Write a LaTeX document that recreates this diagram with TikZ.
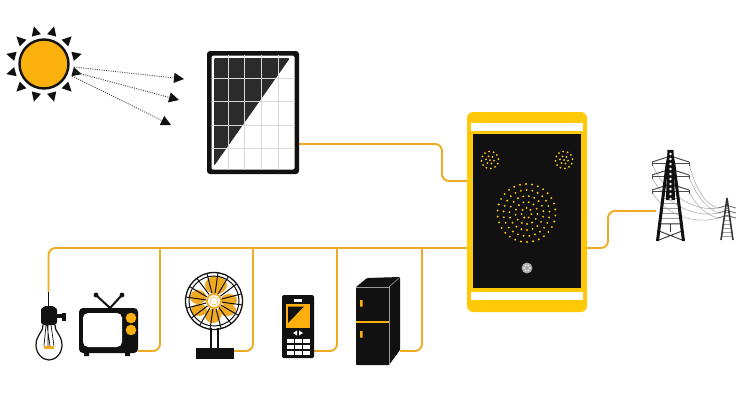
\documentclass[tikz,border=0pt]{standalone}
\usetikzlibrary{arrows.meta}
\definecolor{wireO}{HTML}{EFA922}
\definecolor{sunO}{HTML}{FBB00E}
\definecolor{gold}{HTML}{FFC90A}
\definecolor{inkK}{HTML}{111111}
\definecolor{panelK}{HTML}{2B2B2B}
\tikzset{
  wire/.style={draw=wireO,line width=1.9pt,rounded corners=7pt},
  ray/.style={dash pattern=on 1pt off 1.3pt,line width=.9pt,draw=inkK!80,-{Triangle[length=10pt,width=10pt,color=inkK]}},
  box/.style={inner sep=0pt,outer sep=0pt,rectangle},
  cable/.style={draw=gray!60,line width=.6pt},
  steel/.style={draw=inkK!75,line width=1pt},
  gdot/.style={fill=gold}
}
\begin{document}
\begin{tikzpicture}[x=1pt,y=-1pt]
\useasboundingbox (0,0) rectangle (750,400);
\fill[white] (0,0) rectangle (750,400);

% ---- anchors for the wires
\node[box,minimum width=92pt,minimum height=123pt] (panel) at (253,112.5) {};
\node[box,minimum width=120pt,minimum height=200pt] (ctrl) at (527,212) {};
\node[box,minimum width=59pt,minimum height=45pt] (tv) at (108.5,330.5) {};
\node[box,minimum width=38pt,minimum height=11pt] (fanbase) at (215,353.5) {};
\node[box,minimum width=32pt,minimum height=63pt] (phone) at (298,326.5) {};
\node[box,minimum width=44pt,minimum height=88pt] (fridge) at (378,321) {};
\node[box,minimum width=16pt,minimum height=14pt] (bulb) at (48.5,299) {};
\node[box,minimum width=30pt,minimum height=93pt] (tower) at (671,193.5) {};
\coordinate (j1) at (160,248);
\coordinate (j2) at (253,248);
\coordinate (j3) at (337,248);
\coordinate (j4) at (422,248);
\coordinate (bend1) at (442,144);
\coordinate (bend2) at (608,211);
\coordinate (corner) at (48.5,248);

\draw[wire] ([yshift=-31.5pt]panel.east) -- (bend1) |- ([yshift=31pt]ctrl.west);
\draw[wire] ([yshift=-36pt]ctrl.west) -- (corner) -- (bulb.north);
\draw[wire] (j1) |- ([yshift=-20.5pt]tv.east);
\draw[wire] (j2) |- ([yshift=2.5pt]fanbase.east);
\draw[wire] (j3) |- ([yshift=-24.5pt]phone.east);
\draw[wire] (j4) |- ([yshift=-30pt]fridge.east);
\draw[wire] ([yshift=-36pt]ctrl.east) -| (bend2) -- ([yshift=-17.5pt]tower.west);

% ---- sun
\foreach \a in {15,45,...,345}{
  \fill[inkK,shift={(44,64)}] (\a-9:30) -- (\a+9:30) -- (\a:39) -- cycle;
}
\node[circle,fill=sunO,draw=inkK,line width=2.4pt,minimum size=49pt,inner sep=0pt] (sun) at (44,64) {};
\coordinate (t1) at (184,79);
\coordinate (t2) at (179,100);
\coordinate (t3) at (171,125);
\draw[ray] (74,67) -- (t1);
\draw[ray] (74,72) -- (t2);
\draw[ray] (72,76) -- (t3);

% ---- solar panel
\fill[inkK,rounded corners=3pt] (207,51) rectangle (299,174);
\fill[white,rounded corners=1.5pt] (211.5,55.5) rectangle (294.5,169.5);
\fill[panelK,rounded corners=2pt] (214,58) -- (290,58) -- (214,166) -- cycle;
\begin{scope}
\clip (211.5,55.5) rectangle (294.5,169.5);
\foreach \x in {228,244,261,278} \draw[gray!30,line width=.9pt] (\x,55) -- (\x,170);
\foreach \y in {78,101,125,148} \draw[gray!30,line width=.9pt] (211,\y) -- (295,\y);
\end{scope}

% ---- controller
\fill[gold,rounded corners=6pt] (467,112) rectangle (587,312);
\fill[white] (471,123) rectangle (583,131);
\fill[white] (471,292) rectangle (583,300);
\fill[inkK] (473,134) rectangle (581,288);
\foreach \cx in {490,564}{
  \fill[gdot] (\cx,160) circle (1);
  \foreach \r/\n in {4/6,8.5/12}{
    \foreach \k in {1,...,\n}{
      \pgfmathsetmacro{\ang}{360*\k/\n+\r*17}
      \fill[gdot] ({\cx+\r*cos(\ang)},{160+\r*sin(\ang)}) circle (1);
    }
  }
}
\foreach \r/\n in {5/7,11/13,17/19,23/25,29/30}{
  \foreach \k in {1,...,\n}{
    \pgfmathsetmacro{\ang}{360*\k/\n+\r*13}
    \fill[gdot] ({526.5+\r*cos(\ang)},{213+\r*sin(\ang)}) circle (1.05);
  }
}
\fill[gray!70] (527,268) circle (5.5);
\foreach \a in {0,60,...,300}{
  \fill[white] ({527+2.8*cos(\a)},{268+2.8*sin(\a)}) circle (1);
}

% ---- small pylon and cables
\draw[cable] (689,164) .. controls (696,190) and (706,205) .. (718,208);
\draw[cable] (689,177) .. controls (696,195) and (706,208) .. (718,213);
\draw[cable] (689,192) .. controls (696,205) and (706,215) .. (718,218);
\draw[cable] (652,164) .. controls (665,195) and (695,212) .. (718,208);
\draw[cable] (652,177) .. controls (665,205) and (695,218) .. (718,213);
\draw[cable] (652,192) .. controls (665,215) and (695,225) .. (718,218);
\foreach \y/\w in {208/9,213/9,218/9}{
  \draw[gray!90!black,line width=.9pt] (727-\w,\y) -- (727,\y-2.5) -- (727+\w,\y);
}
\foreach \y in {204,208,...,236}{
  \draw[gray!75,line width=.6pt] ({727-(\y-197)*.15},\y) -- ({727+(\y-197)*.15},\y);
}
\draw[inkK!85,line width=1.6pt] (727,198) -- (721,240) (727,198) -- (733,240);

% ---- big pylon
\foreach \y/\w in {162/18.5,175/18.5,190/18.5}{
  \draw[steel] (670.5-\w,\y) -- (670.5,\y-6) -- (670.5+\w,\y);
  \draw[steel] (670.5-\w,\y+1) -- (670.5+\w,\y+1);
  \draw[steel] (670.5-\w,\y) -- ++(0,4) (670.5+\w,\y) -- ++(0,4);
}
\foreach \y in {198,203,...,223}{
  \draw[gray!80,line width=.9pt] ({670.5-(\y-147)*.135},\y) -- ({670.5+(\y-147)*.135},\y);
}
\draw[inkK!85,line width=.9pt] (660,224) -- (681,224) (659,240) -- (682,231) (682,240) -- (659,231) (670.5,224) -- (670.5,232);
\draw[inkK,line width=3pt] (670,150) -- (667,165) -- (657.5,241);
\draw[inkK,line width=3pt] (671,150) -- (674,165) -- (683.5,241);
\fill[inkK] (667.5,150) -- (673.5,150) -- (675,200) -- (666,200) -- cycle;
\foreach \y in {154,159,...,199}{
  \fill[white] (670.5,\y) circle (1.3);
}

% ---- bulb
\draw[inkK,line width=1.8pt] (bulb.north) -- (48.5,308);
\fill[inkK,rounded corners=3pt] (41,325) -- (41,313) .. controls (41,308) and (45,306) .. (49,306) .. controls (53,306) and (57,308) .. (57,313) -- (57,325) -- cycle;
\fill[inkK] (57,314) rectangle (63,318);
\fill[inkK] (62,313) rectangle (65.5,321);
\draw[inkK,line width=1.2pt] (43,325) .. controls (44,331) and (36,335) .. (36,345)
  .. controls (36,353) and (42,360) .. (49,360) .. controls (56,360) and (62,353) .. (62,345)
  .. controls (62,335) and (54,331) .. (55,325);
\draw[inkK,line width=.7pt] (46,325) -- (44,346) (48,325) -- (48,346) (51,325) -- (54,346) (47,325) -- (50,346);
\fill[wireO] (44,346) rectangle (54,349);
\foreach \ax/\ay/\bx/\by in {33,369,38,363, 41,374,44,366, 49,376,49,367, 58,374,55,366, 66,369,61,363}{
  \draw[wireO,line width=1.8pt] (\ax,\ay) -- (\bx,\by);
}

% ---- tv
\draw[inkK,line width=2pt] (110,308) -- (96,295) (110,308) -- (122,295);
\fill[inkK] (96,295) circle (2.4) (122,295) circle (2.4);
\fill[inkK,rounded corners=4pt] (79,308) rectangle (138,353);
\fill[inkK] (84,353) rectangle (89,356) (125,353) rectangle (130,356);
\fill[white,rounded corners=5pt] (83,313) rectangle (122,347);
\fill[sunO] (131,318) circle (5.3) (131,330) circle (5.3);

% ---- fan
\fill[inkK] (210,328) rectangle (219,349);
\fill[white] (212,328) rectangle (217,349);
\fill[inkK] (196,348) rectangle (234,359);
\fill[wireO] (216,285) ellipse (11 and 9) (229,300) ellipse (8 and 6) (227,310) ellipse (9 and 6)
  (213,316) ellipse (8 and 7) (199,310) ellipse (8 and 6) (198,297) ellipse (8 and 7);
\foreach \a in {0,22.5,...,337.5}{
  \draw[inkK,line width=1pt] (\a+8:8) ++(214,301) -- ++(\a+8:20);
}
\draw[inkK,line width=1.3pt] (214,301) circle (28.5);
\draw[inkK,line width=1pt] (214,301) circle (25);
\fill[white,draw=wireO,line width=1.8pt] (214,301) circle (7);
\draw[wireO!70,line width=.7pt] (214,301) circle (4);

% ---- phone
\fill[inkK,rounded corners=1.5pt] (282,295) rectangle (314,358);
\fill[white] (294,299) rectangle (302,301.5);
\fill[sunO] (286,304) rectangle (310,328);
\fill[inkK] (288,306.5) -- (304,306.5) -- (288,323) -- cycle;
\fill[white] (297,330.5) -- (293,333) -- (297,335.5) -- cycle (299,330.5) -- (303,333) -- (299,335.5) -- cycle;
\foreach \x in {287,295,303}{
  \foreach \y in {339,345,351}{
    \fill[white] (\x,\y) rectangle ++(7,4);
  }
}

% ---- fridge
\fill[inkK,rounded corners=1pt] (356,287) -- (367,278) -- (400,277) -- (400,350) -- (389,365) -- (356,365) -- cycle;
\draw[gray!80,line width=.8pt] (356,287) -- (389,287) -- (389,365);
\draw[gray!80,line width=.6pt] (389,287) -- (399,278);
\draw[sunO,line width=1.2pt] (356,322) -- (389,322);
\fill[sunO] (360,300) rectangle (362.5,306.5) (360,331) rectangle (362.5,337.5);
\end{tikzpicture}
\end{document}
